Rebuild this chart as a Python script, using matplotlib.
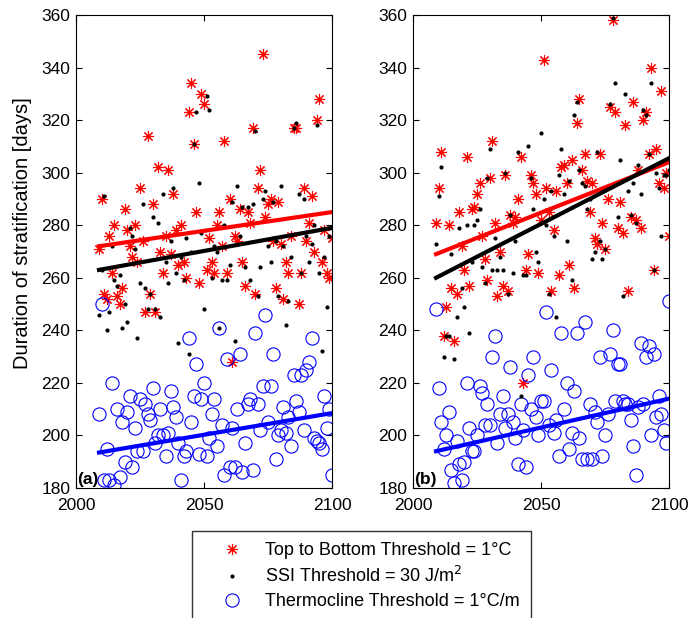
import numpy as np
import matplotlib
matplotlib.use("Agg")
import matplotlib.pyplot as plt

plt.rcParams['font.family'] = ['Liberation Sans', 'DejaVu Sans']

# years of the projection
years = np.arange(2009, 2101)

# panel (a)
top_bottom_a = [271, 290, 254, 252, 276, 262, 280, 253, 250, 256,
                286, 278, 272, 268, 280, 266, 294, 274, 247, 314,
                254, 288, 247, 302, 270, 262, 276, 301, 269, 292,
                278, 265, 280, 266, 260, 323, 334, 311, 285, 258,
                330, 326, 263, 275, 266, 262, 280, 285, 272, 312, 262,
                290, 228, 276, 274, 286, 266, 257, 285, 281, 317,
                254, 294, 301, 345, 283, 288, 290, 274, 256, 289,
                273, 252, 266, 262, 276, 317, 317, 250, 262, 294,
                274, 281, 291, 270, 320, 328, 266, 278, 262, 260, 275]
ssi_a = [246, 263, 291, 240, 247, 272, 259, 257, 261, 241,
         250, 243, 279, 276, 271, 237, 258, 288, 256, 248,
         254, 283, 248, 281, 245, 292, 266, 258, 274, 294,
         262, 235, 268, 259, 275, 231, 270, 311, 323, 296,
         277, 248, 329, 324, 260, 272, 270, 241, 259, 280, 259,
         265, 289, 236, 295, 276, 287, 264, 287, 259, 288,
         316, 253, 264, 290, 293, 272, 266, 289, 274, 253,
         295, 272, 242, 251, 268, 317, 319, 292, 262, 290,
         276, 266, 273, 280, 318, 262, 232, 268, 249, 276, 279]
thermo_a = [208, 250, 183, 195, 183, 220, 181, 210, 184, 205,
            190, 209, 215, 188, 203, 194, 214, 194, 212, 208,
            206, 218, 197, 200, 210, 200, 192, 201, 217, 211,
            207, 197, 183, 192, 194, 237, 205, 215, 227, 193,
            214, 220, 192, 199, 208, 214, 196, 241, 204, 185, 229,
            188, 203, 188, 210, 231, 186, 197, 212, 214, 187,
            239, 212, 202, 219, 246, 205, 219, 231, 191, 200,
            202, 211, 201, 207, 196, 223, 213, 209, 223, 202,
            225, 228, 237, 199, 198, 197, 195, 215, 203, 210, 185]

# panel (b)
top_bottom_b = [281, 294, 308, 238, 249, 280, 256, 236, 254, 285,
                272, 263, 306, 257, 286, 287, 292, 296, 276, 267,
                259, 298, 312, 281, 253, 270, 257, 299, 255, 284,
                281, 283, 290, 306, 220, 263, 269, 299, 296, 292,
                262, 282, 343, 294, 285, 255, 278, 293, 261, 302, 303,
                296, 265, 305, 256, 319, 328, 301, 307, 297, 285,
                296, 275, 273, 307, 281, 271, 290, 325, 358, 323,
                279, 289, 277, 318, 255, 283, 327, 282, 301, 279,
                320, 323, 307, 340, 263, 309, 296, 331, 294, 300, 276]
ssi_b = [273, 291, 302, 230, 238, 238, 269, 229, 245, 279,
         256, 249, 280, 239, 266, 280, 282, 286, 264, 258,
         298, 309, 263, 275, 263, 268, 263, 300, 254, 284,
         262, 274, 308, 215, 261, 261, 310, 298, 286, 270,
         266, 315, 290, 280, 254, 293, 276, 245, 299, 309, 292,
         274, 297, 259, 322, 327, 301, 296, 295, 286, 290,
         267, 270, 308, 274, 267, 271, 294, 326, 359, 334,
         283, 305, 253, 330, 293, 284, 296, 281, 303, 292,
         324, 322, 307, 334, 263, 300, 294, 276, 299, 299, 301]
thermo_b = [248, 218, 205, 195, 200, 209, 187, 182, 198, 189,
            183, 190, 220, 203, 194, 194, 200, 219, 216, 204,
            212, 204, 230, 238, 197, 208, 215, 203, 208, 226,
            205, 199, 189, 212, 202, 188, 223, 210, 230, 207,
            200, 213, 213, 247, 204, 225, 201, 206, 192, 239,
            210, 220, 195, 201, 217, 239, 199, 191, 243, 191,
            212, 191, 209, 205, 230, 192, 200, 208, 231, 240,
            213, 227, 227, 213, 212, 212, 206, 196, 185, 211,
            235, 212, 230, 234, 200, 231, 207, 215, 208, 202, 197, 251]

# linear trend lines (value at first and last year)
trend_years = [2009, 2100]
trend_tb_a = [272, 285]
trend_ssi_a = [263, 279]
trend_th_a = [193.5, 208.5]
trend_tb_b = [269, 304]
trend_ssi_b = [260, 305.5]
trend_th_b = [194, 214]

panels = [('(a)', top_bottom_a, ssi_a, thermo_a, trend_tb_a, trend_ssi_a, trend_th_a),
          ('(b)', top_bottom_b, ssi_b, thermo_b, trend_tb_b, trend_ssi_b, trend_th_b)]

fig = plt.figure(figsize=(6.91, 6.18), dpi=100)
ax_a = fig.add_axes([76/691, 1-488/618, 256/691, 473/618])
ax_b = fig.add_axes([413/691, 1-488/618, 256/691, 473/618])

for ax, (tag, tb, ssi, th, t_tb, t_ssi, t_th) in zip([ax_a, ax_b], panels):
    h1, = ax.plot(years, tb, linestyle='none', marker=(8, 2, 0), color='red',
                  markersize=8, markeredgewidth=0.8)
    h3, = ax.plot(years, th, linestyle='none', marker='o', markerfacecolor='none',
                  markeredgecolor='blue', markersize=9.5, markeredgewidth=0.8)
    h2, = ax.plot(years, ssi, linestyle='none', marker='.', color='black',
                  markersize=4)
    ax.plot(trend_years, t_tb, color='red', linewidth=3)
    ax.plot(trend_years, t_ssi, color='black', linewidth=3)
    ax.plot(trend_years, t_th, color='blue', linewidth=3)
    ax.set_xlim(2000, 2100)
    ax.set_ylim(180, 360)
    ax.set_xticks([2000, 2050, 2100])
    ax.set_yticks(np.arange(180, 361, 20))
    ax.tick_params(direction='in', top=True, right=True, labelsize=12.5, length=4)
    ax.tick_params(axis='x', pad=7)
    ax.tick_params(axis='y', pad=4)
    ax.text(0.003, 0.003, tag, transform=ax.transAxes, fontsize=12.5,
            fontweight='bold', ha='left', va='bottom')

ax_a.set_ylabel('Duration of stratification [days]', fontsize=14.5)
ax_a.yaxis.set_label_coords(-0.172, 0.539)

fig.legend([h1, h2, h3],
           ['Top to Bottom Threshold = 1°C',
            'SSI Threshold = 30 J/m$^2$',
            'Thermocline Threshold = 1°C/m'],
           loc='upper left', bbox_to_anchor=(192/691, 1-531/618),
           fontsize=13, frameon=True, fancybox=False, edgecolor='black',
           borderpad=0.6, labelspacing=0.4, handlelength=3.2,
           handletextpad=0.25, borderaxespad=0)

fig.savefig('out.png', dpi=100)
